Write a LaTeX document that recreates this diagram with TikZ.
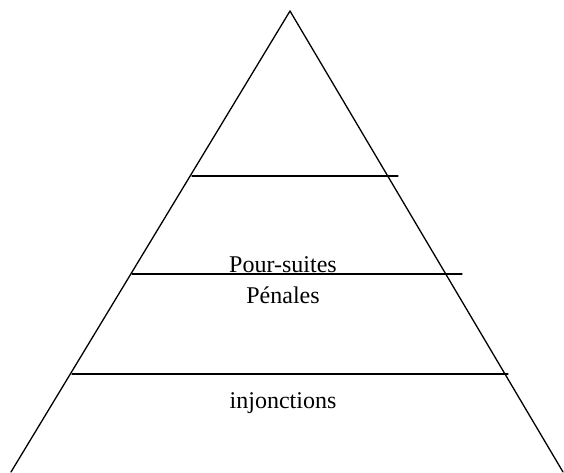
\documentclass[tikz,border=0pt]{standalone}
\usepackage{fontspec}
\setmainfont{Liberation Serif}
\usepackage{tikz}
\usepackage{tkz-euclide}
\tikzset{
  level/.style={line width=1.3pt,color=black},
  lbl/.style={anchor=base,inner sep=0pt,font=\fontsize{24}{28}\selectfont}
}

\begin{document}
\begin{tikzpicture}[x=1pt,y=1pt]
  \useasboundingbox (0,0) rectangle (564,472);
  \tkzDefPoint(290,461){S}
  \tkzDefPoint(11,0){L}
  \tkzDefPoint(563,0){R}
  \tkzDefPoint(192,296){P1}
  \tkzDefPoint(398,296){Q1}
  \tkzDefPoint(132,198){P2}
  \tkzDefPoint(462,198){Q2}
  \tkzDefPoint(72,98){P3}
  \tkzDefPoint(508,98){Q3}
  \tkzDrawSegments[level](L,S S,R)
  \tkzDrawSegment[level](P1,Q1)
  \tkzDrawSegment[level](P2,Q2)
  \tkzDrawSegment[level](P3,Q3)
  \node[lbl] (pours) at (283,200) {Pour-suites};
  \node[lbl] (penal) at (283,169) {Pénales};
  \node[lbl] (injon) at (283,64) {injonctions};
\end{tikzpicture}
\end{document}
